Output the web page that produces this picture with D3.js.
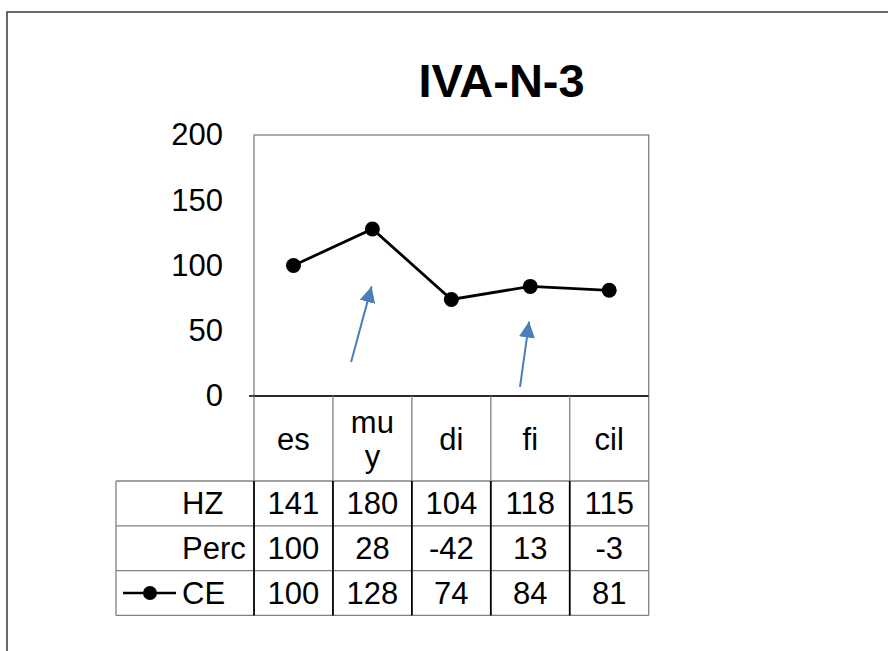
<!DOCTYPE html>
<html>
<head>
<meta charset="utf-8">
<script src="https://cdn.jsdelivr.net/npm/d3@7"></script>
<style>
  html, body { margin: 0; padding: 0; background: #fff; }
  svg { display: block; font-family: "Liberation Sans", Arial, sans-serif; }
</style>
</head>
<body>
<svg id="chart" width="888" height="651"></svg>
<script>
// ---- data ----
const title = "IVA-N-3";
const categories = ["es", "muy", "di", "fi", "cil"];
const headerLines = [["es"], ["mu", "y"], ["di"], ["fi"], ["cil"]];
const hzValues = [141, 180, 104, 118, 115];
const percValues = [100, 28, -42, 13, -3];
const ceValues = [100, 128, 74, 84, 81];
const rowLabels = ["HZ", "Perc", "CE"];
const yTicks = [0, 50, 100, 150, 200];
// annotation arrows: [category, band offset, value] start -> tip
const arrows = [
  { cat: "muy", x0: -0.27, y0: 26, x1: -0.01, y1: 84 },
  { cat: "fi",  x0: -0.13, y0: 7,  x1: -0.015, y1: 57 }
];

// ---- layout ----
const svg = d3.select("#chart");
const L = 254, R = 648.7, T = 135, B = 396;
const headerBottom = 481, rowH = 44.8, tableLeft = 116, labelX = 182;
const fontSize = 31;

const x = d3.scaleBand().domain(categories).range([L, R]).paddingInner(0).paddingOuter(0);
const y = d3.scaleLinear().domain([0, 200]).range([B, T]);
const cx = c => x(c) + x.bandwidth() / 2;

// outer frame
svg.append("rect").attr("x", 7).attr("y", 12).attr("width", 1000).attr("height", 1000)
  .attr("fill", "none").attr("stroke", "#3a3a3a").attr("stroke-width", 1.5);

// title
svg.append("text").attr("x", 501.5).attr("y", 97).attr("text-anchor", "middle")
  .attr("font-size", 47).attr("font-weight", "bold").attr("fill", "#000").text(title);

// plot area border
svg.append("rect").attr("x", L).attr("y", T).attr("width", R - L).attr("height", B - T)
  .attr("fill", "none").attr("stroke", "#808080").attr("stroke-width", 1.3);

// y axis
const yAxis = svg.append("g").attr("transform", `translate(${L},0)`)
  .call(d3.axisLeft(y).tickValues(yTicks).tickSize(0).tickPadding(31));
yAxis.select(".domain").remove();
yAxis.selectAll("text").attr("font-size", fontSize).attr("font-family", "Liberation Sans, Arial, sans-serif").attr("fill", "#000");

// header (category) row
svg.append("line").attr("x1", L - 5).attr("x2", R).attr("y1", B).attr("y2", B)
  .attr("stroke", "#000").attr("stroke-width", 1.5);
x.domain().concat([null]).forEach((c, i) => {
  const xx = c ? x(c) : R;
  svg.append("line").attr("x1", xx).attr("x2", xx).attr("y1", B).attr("y2", headerBottom)
    .attr("stroke", "#808080").attr("stroke-width", 1.3);
});
categories.forEach((c, i) => {
  const lines = headerLines[i];
  const mid = (B + headerBottom) / 2;
  const lh = 34;
  lines.forEach((t, j) => {
    svg.append("text").attr("x", cx(c))
      .attr("y", mid + (j - (lines.length - 1) / 2) * lh + 11)
      .attr("text-anchor", "middle").attr("font-size", fontSize).attr("fill", "#000").text(t);
  });
});

// table rows
const rows = [hzValues, percValues, ceValues];
const tableBottom = headerBottom + rowH * rows.length;
rows.forEach((vals, r) => {
  const top = headerBottom + r * rowH;
  svg.append("line").attr("x1", tableLeft).attr("x2", R).attr("y1", top).attr("y2", top)
    .attr("stroke", "#808080").attr("stroke-width", 1.3);
  vals.forEach((v, i) => {
    svg.append("text").attr("x", cx(categories[i])).attr("y", top + rowH / 2 + 11)
      .attr("text-anchor", "middle").attr("font-size", fontSize).attr("fill", "#000").text(v);
  });
  svg.append("text").attr("x", labelX).attr("y", top + rowH / 2 + 11)
    .attr("text-anchor", "start").attr("font-size", fontSize).attr("fill", "#000").text(rowLabels[r]);
});
svg.append("line").attr("x1", tableLeft).attr("x2", R).attr("y1", tableBottom).attr("y2", tableBottom)
  .attr("stroke", "#808080").attr("stroke-width", 1.3);
svg.append("line").attr("x1", tableLeft).attr("x2", tableLeft).attr("y1", headerBottom).attr("y2", tableBottom)
  .attr("stroke", "#808080").attr("stroke-width", 1.3);
categories.concat([null]).forEach(c => {
  const xx = c ? x(c) : R;
  svg.append("line").attr("x1", xx).attr("x2", xx).attr("y1", headerBottom).attr("y2", tableBottom)
    .attr("stroke", c === null ? "#808080" : "#000").attr("stroke-width", c === null ? 1.3 : 1.8);
});

// legend key in CE row
const ceMid = headerBottom + 2.5 * rowH;
svg.append("line").attr("x1", 123).attr("x2", 176).attr("y1", ceMid).attr("y2", ceMid)
  .attr("stroke", "#000").attr("stroke-width", 2.5);
svg.append("circle").attr("cx", 150).attr("cy", ceMid).attr("r", 7).attr("fill", "#000");

// CE line
const line = d3.line().x((d, i) => cx(categories[i])).y(d => y(d));
svg.append("path").datum(ceValues).attr("d", line)
  .attr("fill", "none").attr("stroke", "#000").attr("stroke-width", 2.8);
svg.selectAll("circle.pt").data(ceValues).enter().append("circle").attr("class", "pt")
  .attr("cx", (d, i) => cx(categories[i])).attr("cy", d => y(d)).attr("r", 7.5).attr("fill", "#000");

// arrows
const defs = svg.append("defs");
defs.append("marker").attr("id", "ah").attr("viewBox", "0 0 10 10").attr("refX", 10).attr("refY", 5)
  .attr("markerWidth", 8).attr("markerHeight", 8).attr("markerUnits", "strokeWidth").attr("orient", "auto")
  .append("path").attr("d", "M0,0 L10,5 L0,10 Z").attr("fill", "#4a7ebb");
arrows.forEach(a => {
  const bw = x.bandwidth();
  svg.append("line")
    .attr("x1", cx(a.cat) + a.x0 * bw).attr("y1", y(a.y0))
    .attr("x2", cx(a.cat) + a.x1 * bw).attr("y2", y(a.y1))
    .attr("stroke", "#4a7ebb").attr("stroke-width", 2).attr("marker-end", "url(#ah)");
});
</script>
</body>
</html>
